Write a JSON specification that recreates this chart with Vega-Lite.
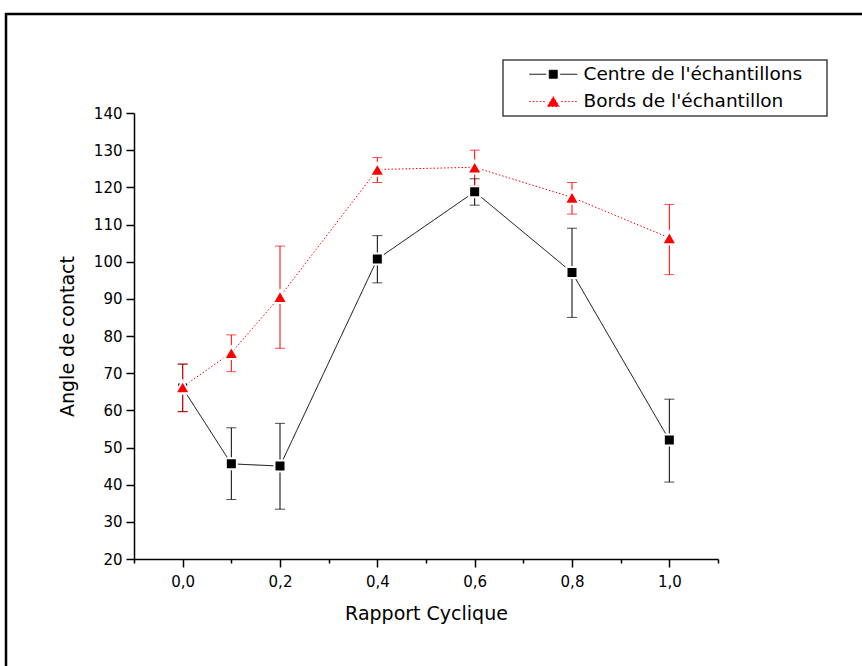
{
  "$schema": "https://vega.github.io/schema/vega-lite/v6.json",
  "autosize": {"type": "none"},
  "padding": {"left": 6, "top": 14, "right": 0, "bottom": 0},
  "width": 858,
  "height": 654,
  "background": "white",
  "config": {
    "view": {"stroke": "black", "strokeWidth": 2.5, "fill": "white"},
    "font": "DejaVu Sans"
  },
  "data": {
    "values": [
      {"x": 0.0, "serie": "Centre de l'échantillons", "y": 66.0, "lo": 59.7, "hi": 72.4},
      {"x": 0.1, "serie": "Centre de l'échantillons", "y": 45.6, "lo": 36.0, "hi": 55.3},
      {"x": 0.2, "serie": "Centre de l'échantillons", "y": 45.0, "lo": 33.4, "hi": 56.5},
      {"x": 0.4, "serie": "Centre de l'échantillons", "y": 100.7, "lo": 94.3, "hi": 107.0},
      {"x": 0.6, "serie": "Centre de l'échantillons", "y": 118.8, "lo": 115.2, "hi": 122.3},
      {"x": 0.8, "serie": "Centre de l'échantillons", "y": 97.1, "lo": 85.0, "hi": 109.0},
      {"x": 1.0, "serie": "Centre de l'échantillons", "y": 52.0, "lo": 40.7, "hi": 63.0},
      {"x": 0.0, "serie": "Bords de l'échantillon", "y": 66.3, "lo": 59.6, "hi": 72.5},
      {"x": 0.1, "serie": "Bords de l'échantillon", "y": 75.5, "lo": 70.4, "hi": 80.3},
      {"x": 0.2, "serie": "Bords de l'échantillon", "y": 90.6, "lo": 76.7, "hi": 104.2},
      {"x": 0.4, "serie": "Bords de l'échantillon", "y": 124.8, "lo": 121.3, "hi": 128.0},
      {"x": 0.6, "serie": "Bords de l'échantillon", "y": 125.4, "lo": 120.5, "hi": 130.0},
      {"x": 0.8, "serie": "Bords de l'échantillon", "y": 117.3, "lo": 112.8, "hi": 121.3},
      {"x": 1.0, "serie": "Bords de l'échantillon", "y": 106.4, "lo": 96.5, "hi": 115.4}
    ]
  },
  "encoding": {
    "x": {
      "field": "x", "type": "quantitative",
      "scale": {"domain": [-0.1, 1.1], "range": [128, 712], "nice": false, "zero": false},
      "axis": {
        "orient": "bottom", "offset": -109,
        "values": [-0.1, 0, 0.1, 0.2, 0.3, 0.4, 0.5, 0.6, 0.7, 0.8, 0.9, 1.0, 1.1],
        "labelExpr": "abs(round(datum.value*10)) % 2 === 0 ? replace(format(datum.value, '.1f'), '.', ',') : ''",
        "tickSize": {"condition": {"test": "abs(round(datum.value*10)) % 2 === 0", "value": 8}, "value": 4},
        "grid": false, "labelOverlap": false, "labelFlush": false,
        "domainColor": "black", "domainWidth": 1.5, "tickColor": "black", "tickWidth": 1.5,
        "labelFont": "DejaVu Sans", "labelFontSize": 15, "labelColor": "black", "labelPadding": 7,
        "title": "Rapport Cyclique", "titleFont": "DejaVu Sans", "titleFontSize": 19,
        "titleFontWeight": "normal", "titleColor": "black", "titlePadding": 15
      }
    },
    "y": {
      "field": "y", "type": "quantitative",
      "scale": {"domain": [20, 140], "range": [545, 99], "nice": false, "zero": false}
    }
  },
  "layer": [
    {
      "mark": {"type": "rule", "strokeWidth": 1},
      "encoding": {
        "y": {
          "field": "lo", "type": "quantitative",
          "axis": {
            "orient": "left", "offset": -128,
            "values": [20, 25, 30, 35, 40, 45, 50, 55, 60, 65, 70, 75, 80, 85, 90, 95, 100, 105, 110, 115, 120, 125, 130, 135, 140],
            "labelExpr": "datum.value % 10 === 0 ? datum.label : ''",
            "tickSize": {"condition": {"test": "datum.value % 10 === 0", "value": 8}, "value": 4},
            "grid": false, "labelOverlap": false, "labelFlush": false,
            "domainColor": "black", "domainWidth": 1.5, "tickColor": "black", "tickWidth": 1.5,
            "labelFont": "DejaVu Sans", "labelFontSize": 15, "labelColor": "black", "labelPadding": 4,
            "title": "Angle de contact", "titleFont": "DejaVu Sans", "titleFontSize": 19,
            "titleFontWeight": "normal", "titleColor": "black", "titlePadding": 16
          }
        },
        "y2": {"field": "hi"},
        "color": {
          "field": "serie", "type": "nominal",
          "scale": {"domain": ["Centre de l'échantillons", "Bords de l'échantillon"], "range": ["black", "red"]},
          "legend": {
            "title": null, "orient": "none", "legendX": 497, "legendY": 46,
            "direction": "vertical",
            "padding": 5, "rowPadding": 8.2,
            "strokeColor": "#444444", "fillColor": "white",
            "labelFont": "DejaVu Sans", "labelFontSize": 18.5, "labelColor": "black",
            "labelLimit": 400,
            "labelExpr": "datum.label + '\u00a0\u2800'",
            "symbolSize": 100, "symbolOffset": 36, "labelOffset": 21,
            "encode": {
              "legend": {"update": {"strokeWidth": {"value": 1.5}}},
              "symbols": {"update": {
                "shape": {"signal": "indexof(datum.value, 'Centre') === 0 ? 'M-4.8,0H-1.4M1.4,0H4.8M-0.8,-0.8H0.8V0.8H-0.8Z' : 'M-4.8,0H-1.6M1.6,0H4.8M0,-1L1.2,1H-1.2Z'"},
                "fill": {"signal": "indexof(datum.value, 'Centre') === 0 ? 'black' : 'red'"},
                "stroke": {"signal": "indexof(datum.value, 'Centre') === 0 ? 'black' : 'red'"},
                "strokeDash": {"signal": "indexof(datum.value, 'Centre') === 0 ? [1, 0] : [1.5, 1.5]"},
                "strokeWidth": {"value": 1},
                "size": {"value": 100},
                "opacity": {"value": 1}
              }}
            }
          }
        }
      }
    },
    {
      "mark": {"type": "tick", "orient": "horizontal", "size": 10, "thickness": 1},
      "encoding": {
        "y": {"field": "lo", "type": "quantitative"},
        "color": {"field": "serie", "type": "nominal"}
      }
    },
    {
      "mark": {"type": "tick", "orient": "horizontal", "size": 10, "thickness": 1},
      "encoding": {
        "y": {"field": "hi", "type": "quantitative"},
        "color": {"field": "serie", "type": "nominal"}
      }
    },
    {
      "mark": {"type": "line", "strokeWidth": 1},
      "encoding": {
        "color": {"field": "serie", "type": "nominal"},
        "strokeDash": {
          "field": "serie", "type": "nominal", "legend": null,
          "scale": {"domain": ["Centre de l'échantillons", "Bords de l'échantillon"], "range": [[1, 0], [1.5, 2]]}
        }
      }
    },
    {
      "transform": [{"filter": "indexof(datum.serie, 'Centre') === 0"}],
      "mark": {"type": "point", "shape": "square", "filled": true, "size": 121, "color": "black", "opacity": 1, "stroke": "white", "strokeWidth": 2}
    },
    {
      "transform": [{"filter": "indexof(datum.serie, 'Bords') === 0"}],
      "mark": {"type": "point", "shape": "triangle-up", "filled": true, "size": 210, "color": "red", "opacity": 1, "stroke": "white", "strokeWidth": 2}
    }
  ]
}
